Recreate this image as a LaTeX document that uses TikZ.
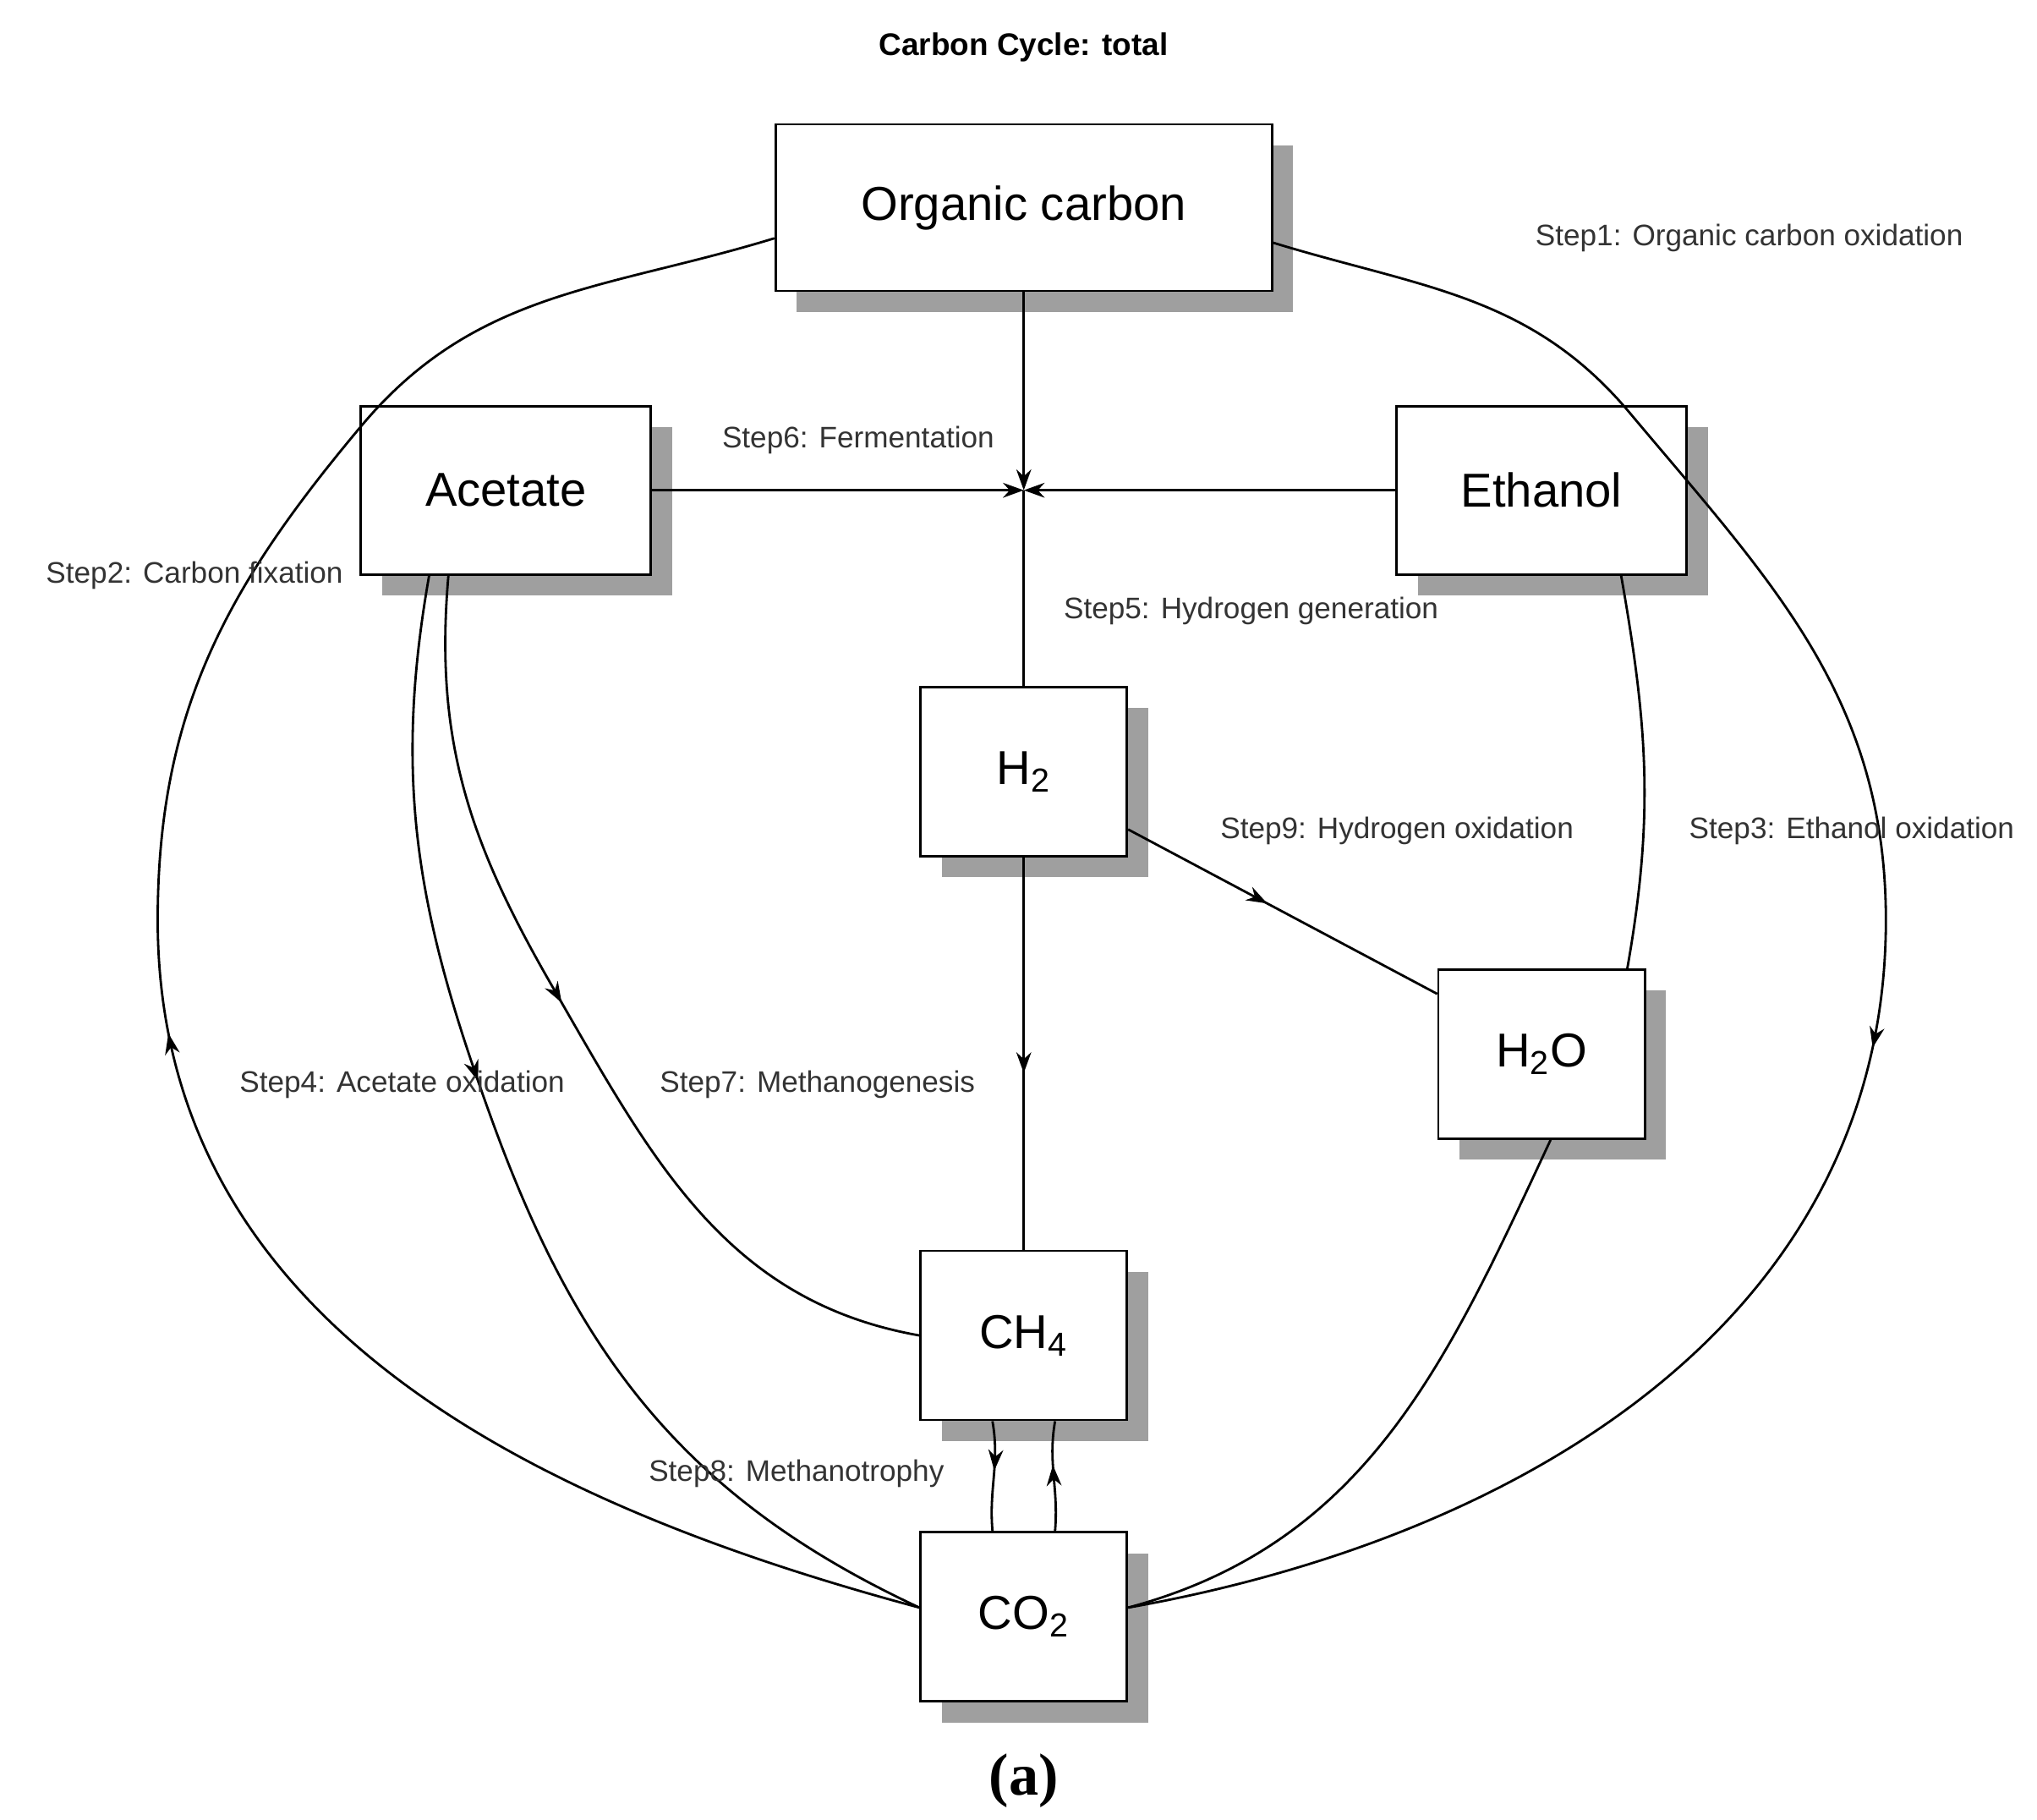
\documentclass[tikz,border=0pt]{standalone}
\usepackage{fontspec}
\setmainfont{Liberation Sans}
\newfontfamily\capfont{Liberation Serif}
\usetikzlibrary{shadows,decorations.markings,arrows.meta}
\begin{document}
\begin{tikzpicture}[x=0.1554cm,y=0.1554cm,
  box/.style={draw,thick,fill=white,font=\fontsize{16}{18}\selectfont,
    drop shadow={shadow xshift=0.25cm,shadow yshift=-0.25cm,fill=gray!75,opacity=1}},
  big/.style={box,minimum width=5.87cm,minimum height=1.97cm},
  mid/.style={box,minimum width=3.43cm,minimum height=1.99cm},
  small/.style={box,minimum width=2.44cm,minimum height=2cm},
  steplbl/.style={font=\fontsize{10}{12}\selectfont,text=black!80},
  link/.style={thick},
  arr/.style={postaction={decorate},decoration={markings,
    mark=at position #1 with {\arrow{Stealth[length=7pt,width=5pt]}}}}
]
\useasboundingbox (0,0) rectangle (155,138.4);

% title and caption
\node[font=\bfseries\fontsize{10.5}{12}\selectfont] (title) at (77.9,134.8) {Carbon Cycle: total};
\node[font=\capfont\bfseries\fontsize{20}{22}\selectfont] (cap) at (77.9,2.9) {(a)};

% compartments
\node[big] (org) at (77.9,122.6) {Organic carbon};
\node[mid] (ace) at (38.5,101.1) {Acetate};
\node[mid] (eth) at (117.3,101.1) {Ethanol};
\node[small] (h2) at (77.9,79.7) {H\textsubscript{2}};
\node[small] (h2o) at (117.3,58.2) {H\textsubscript{2}O};
\node[small] (ch4) at (77.9,36.8) {CH\textsubscript{4}};
\node[small] (co2) at (77.9,15.4) {CO\textsubscript{2}};
\coordinate (jn) at (77.9,101.1);

% connectors
\draw[link,-{Stealth[length=7pt,width=5pt]}] (org) -- (jn);
\draw[link,-{Stealth[length=7pt,width=5pt]}] (ace) -- (jn);
\draw[link,-{Stealth[length=7pt,width=5pt]}] (eth) -- (jn);
\draw[link] (h2) -- (jn);
\draw[link,arr=0.55] (h2) -- (ch4);
\draw[link,arr=0.45] (h2.331) -- (h2o.150);
\draw[link] (eth.313) to[out=-80,in=80] (h2o.45);
\draw[link] (h2o.276) to[out=-115,in=15] (co2.5);
\draw[link,arr=0.47] (co2.175) to[out=165,in=-90] (12,68.4) to[out=90,in=230] (27.5,106) to[out=50,in=197] (org.187);
\draw[link,arr=0.53] (org.352) to[out=-17,in=130] (124,107) to[out=-50,in=90] (143.5,68.4) to[out=-90,in=10] (co2.5);
\draw[link,arr=0.42] (ace.228) to[out=-100,in=110] (37.5,53) to[out=-70,in=155] (co2.175);
\draw[link,arr=0.47] (ace.236) to[out=-95,in=120] (42,63.4) to[out=-60,in=170] (ch4.west);
\draw[link,arr=0.45] ([xshift=-0.37cm]ch4.south) to[out=-80,in=95] ([xshift=-0.37cm]co2.north);
\draw[link,arr=0.6] ([xshift=0.37cm]co2.north) to[out=85,in=-100] ([xshift=0.37cm]ch4.south);

% labels
\node[steplbl] (s1) at (133.1,120.3) {Step1: Organic carbon oxidation};
\node[steplbl] (s6) at (65.3,104.9) {Step6: Fermentation};
\node[steplbl] (s2) at (14.8,94.6) {Step2: Carbon fixation};
\node[steplbl] (s5) at (95.2,91.9) {Step5: Hydrogen generation};
\node[steplbl] (s9) at (106.3,75.2) {Step9: Hydrogen oxidation};
\node[steplbl] (s3) at (140.9,75.2) {Step3: Ethanol oxidation};
\node[steplbl] (s4) at (30.6,55.9) {Step4: Acetate oxidation};
\node[steplbl] (s7) at (62.2,55.9) {Step7: Methanogenesis};
\node[steplbl] (s8) at (60.6,26.3) {Step8: Methanotrophy};
\end{tikzpicture}
\end{document}
